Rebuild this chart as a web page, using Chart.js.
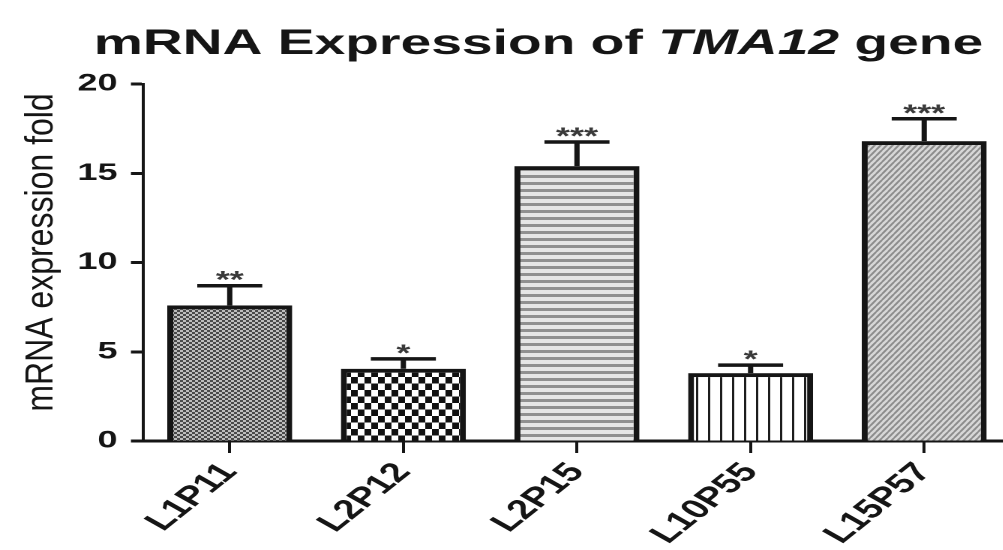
<!DOCTYPE html>
<html lang="en">
<head>
<meta charset="UTF-8">
<title>mRNA Expression of TMA12 gene</title>
<script src="https://cdn.jsdelivr.net/npm/chart.js@4.4.1/dist/chart.umd.min.js"></script>
<style>
    html, body {
        margin: 0;
        padding: 0;
        background: #fff;
        width: 1003px;
        height: 550px;
        overflow: hidden;
    }

    /* the original figure is stretched sideways, so the plot is drawn narrow and scaled in x */
    #wrap {
        position: absolute;
        left: 0;
        top: 0;
        width: 674px;
        height: 550px;
        transform: scaleX(1.5);
        transform-origin: 0 0;
    }
</style>
</head>
<body>
<div id="wrap"><canvas id="chart"></canvas></div>
<script>
const labels = ['L1P11', 'L2P12', 'L2P15', 'L10P55', 'L15P57'];
const foldValues = [7.6, 4.05, 15.4, 3.8, 16.8];
const semValues = [1.1, 0.55, 1.35, 0.45, 1.25];
const stars = ['**', '*', '***', '*', '***'];
const yTicks = [0, 5, 10, 15, 20];
const titleParts = ['mRNA Expression of ', 'TMA12', ' gene'];
const titleItalic = [false, true, false];
const yTitle = 'mRNA expression fold';

const INK = '#151515';

// small hi-res tiles for the hatch fills (drawn at 2x, shrunk back in setTransform)
function hatch(w, h, draw) {
    const c = document.createElement('canvas');
    c.width = w * 2;
    c.height = h * 2;
    const g = c.getContext('2d');
    g.scale(2, 2);
    draw(g, w, h);
    const p = g.createPattern(c, 'repeat');
    p.setTransform(new DOMMatrix().scale(0.5));
    return p;
}

const fills = [
    hatch(4, 4, (g) => {
        g.fillStyle = '#bdbdbd';
        g.fillRect(0, 0, 4, 4);
        g.fillStyle = '#4a4a4a';
        g.fillRect(0, 0, 2, 2);
        g.fillRect(2, 2, 2, 2);
    }),
    hatch(9, 13, (g) => {
        g.fillStyle = '#fff';
        g.fillRect(0, 0, 9, 13);
        g.fillStyle = '#111';
        g.fillRect(0, 0, 4.5, 6.5);
        g.fillRect(4.5, 6.5, 4.5, 6.5);
    }),
    hatch(1, 7, (g) => {
        g.fillStyle = '#e6e6e6';
        g.fillRect(0, 0, 1, 7);
        g.fillStyle = '#909090';
        g.fillRect(0, 0, 1, 3);
    }),
    hatch(8, 1, (g) => {
        g.fillStyle = '#fff';
        g.fillRect(0, 0, 8, 1);
        g.fillStyle = '#1c1c1c';
        g.fillRect(0, 0, 1.5, 1);
    }),
    hatch(4, 6, (g, w, h) => {
        g.fillStyle = '#d8d8d8';
        g.fillRect(0, 0, w, h);
        g.strokeStyle = '#8c8c8c';
        g.lineWidth = 1.5;
        g.beginPath();
        for (let k = -1; k <= 1; k++) {
            g.moveTo(k * w, h);
            g.lineTo(k * w + w, 0);
        }
        g.stroke();
    })
];

// title with the gene name in italics
const titlePlugin = {
    id: 'splitTitle',
    afterDraw(chart) {
        const ctx = chart.ctx;
        ctx.save();
        const fonts = titleItalic.map(it => (it ? 'italic ' : '') + 'bold 35px Arial');
        let total = 0;
        const widths = titleParts.map((t, i) => {
            ctx.font = fonts[i];
            const w = ctx.measureText(t).width;
            total += w;
            return w;
        });
        const target = 593;
        ctx.translate(359, 54);
        ctx.scale(target / total, 1);
        ctx.fillStyle = INK;
        ctx.textBaseline = 'alphabetic';
        ctx.textAlign = 'left';
        let x = -total / 2;
        titleParts.forEach((t, i) => {
            ctx.font = fonts[i];
            ctx.fillText(t, x, 0);
            x += widths[i];
        });
        ctx.restore();
    }
};

// y title, partly undoing the sideways stretch so it stays slim like the original
const yTitlePlugin = {
    id: 'yTitle',
    afterDraw(chart) {
        const ctx = chart.ctx;
        const area = chart.chartArea;
        ctx.save();
        ctx.translate(35, (area.top + area.bottom) / 2 - 10);
        ctx.scale(1 / 1.25, 1);
        ctx.rotate(-Math.PI / 2);
        ctx.font = '32px Arial';
        ctx.fillStyle = INK;
        ctx.textAlign = 'center';
        ctx.textBaseline = 'alphabetic';
        ctx.fillText(yTitle, 0, 0);
        ctx.restore();
    }
};

// SEM whiskers (upper half only) and significance stars
const errorBars = {
    id: 'errorBars',
    afterDatasetsDraw(chart) {
        const ctx = chart.ctx;
        const y = chart.scales.y;
        const meta = chart.getDatasetMeta(0);
        ctx.save();
        ctx.strokeStyle = INK;
        ctx.lineWidth = 3.5;
        meta.data.forEach((bar, i) => {
            const top = y.getPixelForValue(foldValues[i] + semValues[i]);
            const half = bar.width * 0.26;
            ctx.beginPath();
            ctx.moveTo(bar.x, bar.y);
            ctx.lineTo(bar.x, top);
            ctx.moveTo(bar.x - half, top);
            ctx.lineTo(bar.x + half, top);
            ctx.stroke();

            ctx.fillStyle = '#3a3a3a';
            ctx.font = 'bold 24px Arial';
            ctx.textAlign = 'center';
            ctx.textBaseline = 'alphabetic';
            ctx.fillText(stars[i], bar.x, top + 2);
        });
        ctx.restore();
    }
};

new Chart(document.getElementById('chart'), {
    type: 'bar',
    data: {
        labels: labels,
        datasets: [{
            data: foldValues,
            backgroundColor: fills,
            borderColor: INK,
            borderWidth: 4,
            barPercentage: 0.72,
            categoryPercentage: 1.0
        }]
    },
    options: {
        responsive: true,
        maintainAspectRatio: false,
        devicePixelRatio: 2,
        animation: false,
        layout: {
            padding: { top: 84, left: 0, right: 0, bottom: 0 }
        },
        plugins: {
            legend: { display: false },
            tooltip: { enabled: false }
        },
        scales: {
            x: {
                afterFit: (scale) => { scale.height = 109; },
                grid: {
                    offset: false,
                    drawOnChartArea: false,
                    tickLength: 12,
                    tickWidth: 2,
                    tickColor: INK
                },
                border: { display: true, color: INK, width: 3 },
                ticks: {
                    autoSkip: false,
                    minRotation: 50,
                    maxRotation: 50,
                    padding: 4,
                    color: INK,
                    font: { family: 'Arial', weight: 'bold', size: 27 }
                }
            },
            y: {
                min: yTicks[0],
                max: yTicks[yTicks.length - 1],
                afterFit: (scale) => { scale.width = 95.3; },
                grid: {
                    drawOnChartArea: false,
                    tickLength: 8,
                    tickWidth: 3,
                    tickColor: INK
                },
                border: { display: true, color: INK, width: 2 },
                ticks: {
                    stepSize: yTicks[1] - yTicks[0],
                    padding: 9,
                    color: INK,
                    font: { family: 'Arial', weight: 'bold', size: 24 }
                }
            }
        }
    },
    plugins: [titlePlugin, yTitlePlugin, errorBars]
});
</script>
</body>
</html>
